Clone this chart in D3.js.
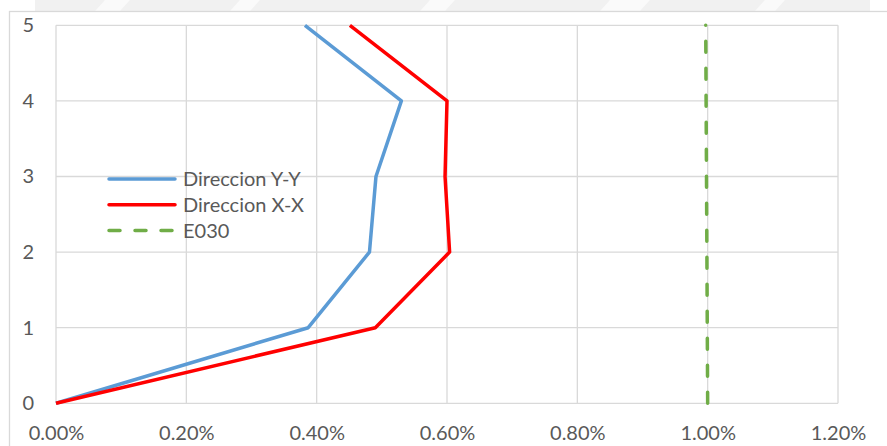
<!DOCTYPE html>
<html>
<head>
<meta charset="utf-8">
<script src="https://cdn.jsdelivr.net/npm/d3@7"></script>
<style>
  html, body { margin: 0; padding: 0; background: #fff; }
  svg { display: block; }
  text { font-family: Lato, "Open Sans", sans-serif; fill: #595959; }
</style>
</head>
<body>
<svg id="chart" width="887" height="446"></svg>
<script>
// Story levels (0 = base, 5 = roof)
const levels = [0, 1, 2, 3, 4, 5];
// Inter-story drift ratios, in percent
const driftY = [0, 0.387, 0.481, 0.491, 0.530, 0.382];
const driftX = [0, 0.490, 0.604, 0.597, 0.600, 0.451];
// Code limit (E030) drift line
const limitLevels = [0, 5];
const limitDrift = [1.0, 0.997];
// Axis ticks
const xTicks = [0, 0.2, 0.4, 0.6, 0.8, 1.0, 1.2];
const yTicks = [0, 1, 2, 3, 4, 5];
const seriesNames = ["Direccion Y-Y", "Direccion X-X", "E030"];

const svg = d3.select("#chart");
const W = 887, H = 446;
const plot = { left: 56, top: 25.3, right: 838, bottom: 403.3 };

// faint page background band above the chart frame
const band = svg.append("g");
band.append("rect").attr("x", 35).attr("y", 0).attr("width", 835).attr("height", 11).attr("fill", "#f1f1f1");
[[95, 120], [230, 250], [420, 445], [600, 640], [755, 775]].forEach(([a, b]) => {
  band.append("path")
    .attr("d", `M${a},11 L${a + 10},0 L${b + 10},0 L${b},11 Z`)
    .attr("fill", "#fafafa");
});

// chart area frame
svg.append("rect")
  .attr("x", 9.5).attr("y", 11.5)
  .attr("width", W).attr("height", H)
  .attr("fill", "#fff").attr("stroke", "#d9d9d9").attr("stroke-width", 1.3);

const x = d3.scaleLinear().domain([0, 1.2]).range([plot.left, plot.right]);
const y = d3.scaleLinear().domain([0, 5]).range([plot.bottom, plot.top]);

// gridlines
const grid = svg.append("g");
grid.selectAll("line.v").data(xTicks).join("line")
  .attr("x1", d => x(d)).attr("x2", d => x(d))
  .attr("y1", plot.top).attr("y2", plot.bottom)
  .attr("stroke", "#d9d9d9").attr("stroke-width", 1.3);
grid.selectAll("line.h").data(yTicks).join("line")
  .attr("x1", plot.left).attr("x2", plot.right)
  .attr("y1", d => y(d)).attr("y2", d => y(d))
  .attr("stroke", "#d9d9d9").attr("stroke-width", 1.3);

// axes (labels only)
const xAxis = svg.append("g")
  .attr("transform", `translate(0,${plot.bottom})`)
  .call(d3.axisBottom(x).tickValues(xTicks).tickSize(0).tickPadding(23)
    .tickFormat(d => d.toFixed(2) + "%"));
const yAxis = svg.append("g")
  .attr("transform", `translate(${plot.left},0)`)
  .call(d3.axisLeft(y).tickValues(yTicks).tickSize(0).tickPadding(22)
    .tickFormat(d3.format("d")));
[xAxis, yAxis].forEach(g => {
  g.select(".domain").remove();
  g.selectAll("text").attr("font-size", 20).style("font-family", "Lato, 'Open Sans', sans-serif").attr("fill", "#595959");
});

const line = d3.line().x(d => x(d[0])).y(d => y(d[1]));

svg.append("path")
  .datum(d3.zip(driftY, levels))
  .attr("d", line).attr("fill", "none")
  .attr("stroke", "#5b9bd5").attr("stroke-width", 3.5).attr("stroke-linejoin", "round");

svg.append("path")
  .datum(d3.zip(driftX, levels))
  .attr("d", line).attr("fill", "none")
  .attr("stroke", "#ff0000").attr("stroke-width", 3.5).attr("stroke-linejoin", "round");

svg.append("path")
  .datum(d3.zip(limitDrift, limitLevels))
  .attr("d", line).attr("fill", "none")
  .attr("stroke", "#70ad47").attr("stroke-width", 3.5)
  .attr("stroke-linecap", "round").attr("stroke-dasharray", "11,16");

// legend
const legend = svg.append("g").attr("transform", "translate(107,179)");
const styles = [
  { color: "#5b9bd5", dash: null },
  { color: "#ff0000", dash: null },
  { color: "#70ad47", dash: "11,15" }
];
seriesNames.forEach((name, i) => {
  const row = legend.append("g").attr("transform", `translate(0,${i * 25.8})`);
  row.append("line")
    .attr("x1", 2).attr("x2", 68).attr("y1", 0).attr("y2", 0)
    .attr("stroke", styles[i].color).attr("stroke-width", 3.5)
    .attr("stroke-linecap", "round")
    .attr("stroke-dasharray", styles[i].dash);
  row.append("text")
    .attr("x", 76).attr("y", 0).attr("dy", "0.35em")
    .attr("font-size", 20).text(name);
});
</script>
</body>
</html>
